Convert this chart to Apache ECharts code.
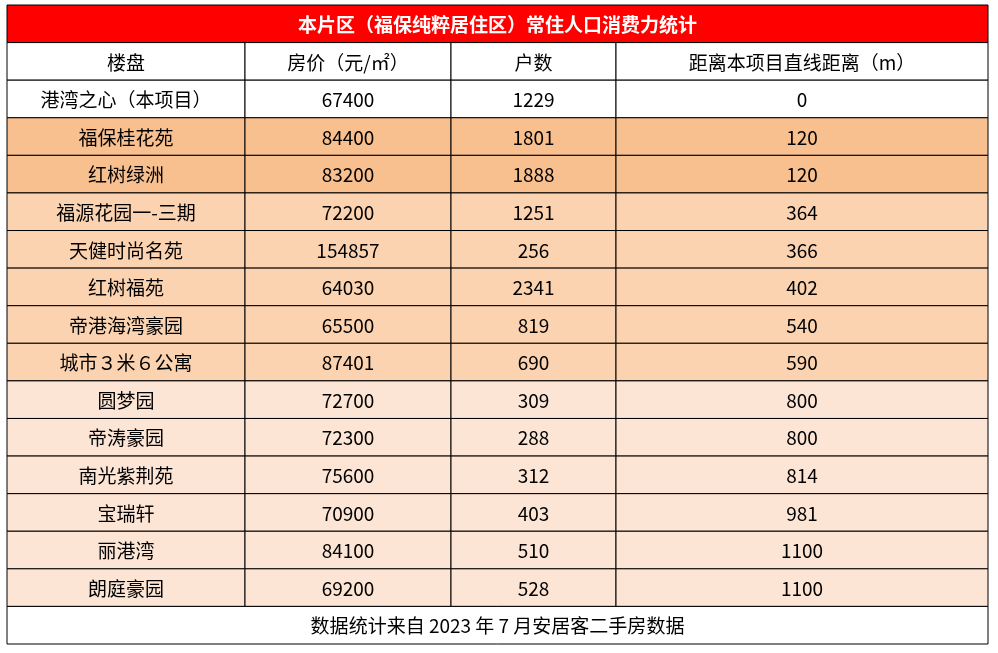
<!DOCTYPE html>
<html><head><meta charset="utf-8">
<script src="https://cdn.jsdelivr.net/npm/echarts@6/dist/echarts.min.js"></script>
<style>html,body{margin:0;padding:0;background:#fff}#c{width:998px;height:653px}</style>
</head><body><div id="c"></div>
<script>
const title = '本片区（福保纯粹居住区）常住人口消费力统计';
const headers = ['楼盘','房价（元/㎡）','户数','距离本项目直线距离（m）'];
const names = ['港湾之心（本项目）','福保桂花苑','红树绿洲','福源花园一-三期','天健时尚名苑','红树福苑','帝港海湾豪园','城市３米６公寓','圆梦园','帝涛豪园','南光紫荆苑','宝瑞轩','丽港湾','朗庭豪园'];
const prices = [67400,84400,83200,72200,154857,64030,65500,87401,72700,72300,75600,70900,84100,69200];
const households = [1229,1801,1888,1251,256,2341,819,690,309,288,312,403,510,528];
const distances = [0,120,120,364,366,402,540,590,800,800,814,981,1100,1100];
const tiers = [0,1,1,2,2,2,2,2,3,3,3,3,3,3];
const footer = '数据统计来自 2023 年 7 月安居客二手房数据';

const tierColors = ['#ffffff','#F8BF8F','#FBD3B1','#FCE5D5'];
const colEdges = [0,238,444,609,981];
const FONT = '"Noto Sans CJK SC", sans-serif';

const rowCount = 2 + names.length + 1;
const items = [];
items.push({value:[0,0,4], text:title, kind:'title'});
headers.forEach((h,i)=>items.push({value:[1,i,1], text:h, kind:'head'}));
names.forEach((n,r)=>{
  const vals=[n,String(prices[r]),String(households[r]),String(distances[r])];
  vals.forEach((v,i)=>items.push({value:[r+2,i,1], text:v, kind:'body', tier:tiers[r]}));
});
items.push({value:[rowCount-1,0,4], text:footer, kind:'foot'});

const chart = echarts.init(document.getElementById('c'));
chart.setOption({
  animation:false,
  grid:{left:7,right:10,top:5,bottom:9},
  xAxis:{type:'value',min:0,max:981,show:false},
  yAxis:{type:'category',data:Array.from({length:rowCount},(_, i)=>i),inverse:true,show:false},
  series:[{
    type:'custom',
    data:items,
    renderItem:function(params,api){
      const it = items[params.dataIndex];
      const row = api.value(0), col = api.value(1), span = api.value(2);
      const c = api.coord([colEdges[col], row]);
      const c2 = api.coord([colEdges[col+span], row]);
      const h = api.size([0,1])[1];
      const x = c[0], y = c[1]-h/2, w = c2[0]-c[0];
      let fill = '#fff', color='#000', weight='normal', size=19;
      if(it.kind==='title'){fill='#FF0000';color='#fff';weight='bold';size=19;}
      if(it.kind==='body'){fill=tierColors[it.tier];}
      return {type:'group',children:[
        {type:'rect',shape:{x:x,y:y,width:w,height:h},style:{fill:fill,stroke:'#000',lineWidth:1}},
        {type:'text',style:{x:x+w/2,y:y+h/2+1,text:it.text,align:'center',verticalAlign:'middle',fill:color,font:weight+' '+size+'px '+FONT}}
      ]};
    }
  }]
});
</script></body></html>
